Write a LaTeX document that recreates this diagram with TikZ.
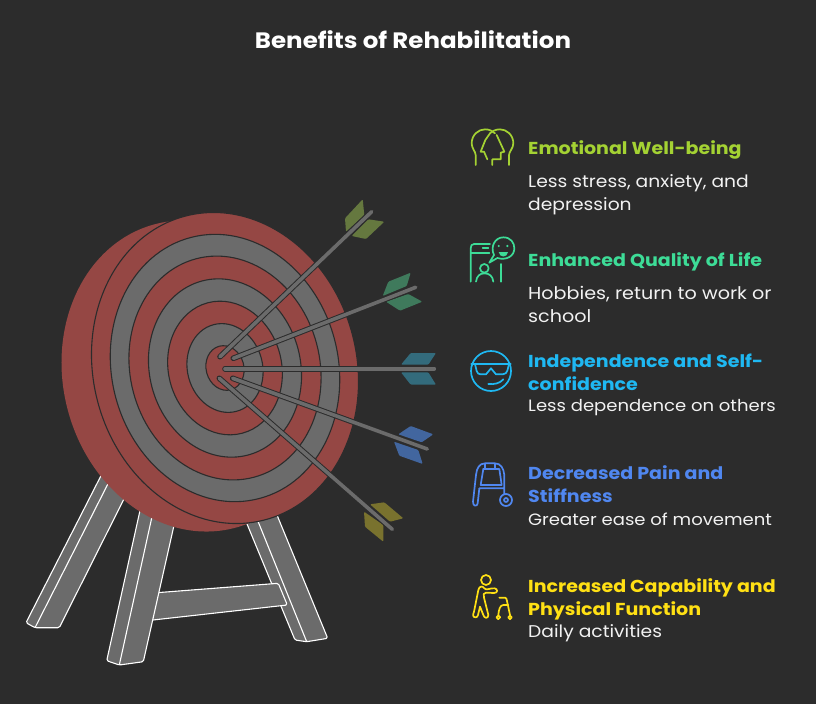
\documentclass[tikz,border=0pt]{standalone}
\usepackage{fontspec}
\setmainfont{Poppins}[FakeStretch=1.1]
\definecolor{bg}{HTML}{2C2C2C}
\definecolor{tred}{HTML}{954744}
\definecolor{tgray}{HTML}{6B6B6B}
\definecolor{cA}{HTML}{A4D233}
\definecolor{cB}{HTML}{3DDC97}
\definecolor{cC}{HTML}{1FB8F2}
\definecolor{cD}{HTML}{5087F0}
\definecolor{cE}{HTML}{FFE014}
\definecolor{fA}{HTML}{65783F}
\definecolor{fB}{HTML}{3F7A5C}
\definecolor{fC}{HTML}{336B7C}
\definecolor{fD}{HTML}{42669F}
\definecolor{fE}{HTML}{79722E}
\tikzset{
  leg/.style={fill=tgray,draw=white,line width=1.1pt,line join=round,rounded corners=1.5pt},
  edgeline/.style={draw=white,line width=1.1pt},
  ring/.style={fill=tgray,draw=bg,line width=1.1pt},
  redring/.style={fill=tred,draw=bg,line width=1.1pt},
  feather/.style={draw=none,rounded corners=1pt},
  shaftout/.style={draw=bg,line width=5.6pt,line cap=round},
  shaft/.style={draw=tgray,line width=3.6pt,line cap=round},
  icon/.style={line width=1.7pt,line cap=round,line join=round,fill=none},
  head/.style={anchor=base west,font=\fontsize{17.3}{23}\selectfont\bfseries,align=left,inner sep=0pt},
  body/.style={anchor=base west,font=\fontsize{17}{23}\selectfont,text=white!95!black,align=left,inner sep=0pt},
  bodysmall/.style={body,font=\fontsize{16.4}{23}\selectfont},
  bodylarge/.style={body,font=\fontsize{17.4}{23}\selectfont},
}
\newcommand{\tilted}[3]{% style, half-width scale, center
  \path[#1] (#3) [rotate around={14.7:(#3)}] ellipse [x radius=#2*131.7, y radius=#2*157];}
\begin{document}
\begin{tikzpicture}[x=1pt,y=-1pt]
\useasboundingbox (0,0) rectangle (816,704);
\fill[bg] (0,0) rectangle (816,704);
\coordinate (c) at (225,368);
\coordinate (cb) at (195,376);
% legs
\path[leg] (110,458) -- (26,622.7) -- (35,627.7) -- (59.3,627.7) -- (133,481) -- cycle;
\draw[edgeline] (117,466) -- (35,627.7);
\path[leg] (240,507) -- (295,640) -- (306.7,641.7) -- (327.7,638.3) -- (270,498) -- cycle;
\draw[edgeline] (251,504) -- (306.7,641.7);
\path[leg] (140,594) -- (278.3,583.3) -- (287.3,605) -- (135,622) -- cycle;
\path[leg] (143,497) -- (106.7,660.7) -- (119.3,665) -- (143.3,661.7) -- (177,512) -- cycle;
\draw[edgeline] (155,503) -- (119.3,665);
% target
\tilted{fill=tred}{1}{cb}
\tilted{redring}{1}{c}
\tilted{ring}{0.8595}{c}
\tilted{redring}{0.7197}{c}
\tilted{ring}{0.5733}{c}
\tilted{redring}{0.4297}{c}
\tilted{ring}{0.2855}{c}
\tilted{redring}{0.1435}{c}
% feathers
\fill[fA,feather] (345,218.3) -- (362.7,199.3) -- (364.3,215) -- (346,231.7) -- cycle;
\fill[fA,feather] (351.7,236) -- (368.3,219.3) -- (384.3,221.7) -- (366,239) -- cycle;
\fill[fB,feather] (382.7,296) -- (388.3,281.7) -- (410.7,272.7) -- (406.7,286) -- cycle;
\fill[fB,feather] (386,301.7) -- (408.3,294) -- (422.3,301.7) -- (400,310.7) -- cycle;
\fill[fC,feather] (401,364.7) -- (410.7,353) -- (436,353) -- (428.3,364.7) -- cycle;
\fill[fC,feather] (401,372.3) -- (428.3,372.3) -- (436,384.7) -- (410.7,384.7) -- cycle;
\fill[fD,feather] (398.3,434.3) -- (410.7,426) -- (433.3,434.3) -- (421.7,442.3) -- cycle;
\fill[fD,feather] (394,441.7) -- (418.3,450) -- (422.7,464) -- (399.3,455.7) -- cycle;
\fill[fE,feather] (370,504.3) -- (384.3,502.3) -- (403.3,518.3) -- (390,521.7) -- cycle;
\fill[fE,feather] (364,511.7) -- (383.3,525) -- (383.3,541.7) -- (365,526.7) -- cycle;
% shafts
\foreach \a/\b/\p/\q in {220/356.7/371.7/211.7, 233.3/358.3/415.7/287.3, 225/368.7/434.3/368.7, 232.7/378.3/427.3/449, 219.3/378.3/392.3/529.3}{
  \draw[shaftout] (\a,\b) -- (\p,\q);
  \draw[shaft] (\a,\b) -- (\p,\q);
}
% title
\node[font=\fontsize{22.3}{25}\selectfont\bfseries,text=white,inner sep=0pt,anchor=base] (title) at (413,48) {Benefits of Rehabilitation};
% texts
\node[head,text=cA] (h1) at (528,154) {Emotional Well-being};
\node[body] (b1) at (528,210) {Less stress, anxiety, and\\depression};
\node[head,text=cB] (h2) at (528,266) {Enhanced Quality of Life};
\node[bodylarge] (b2) at (528,322) {Hobbies, return to work or\\school};
\node[head,text=cC] (h3) at (528,390) {Independence and Self-\\confidence};
\node[bodysmall] (b3) at (528,411) {Less dependence on others};
\node[head,text=cD] (h4) at (528,502) {Decreased Pain and\\Stiffness};
\node[bodysmall] (b4) at (528,525) {Greater ease of movement};
\node[head,text=cE] (h5) at (528,615) {Increased Capability and\\Physical Function};
\node[body] (b5) at (528,637) {Daily activities};
% icon 1
\begin{scope}[shift={(460,120)},x=1pt/3,y=-1pt/3,icon,draw=cA]
\draw (47,135) -- (47,105) .. controls (47,95) and (35,85) .. (35,70) .. controls (35,45) and (55,28) .. (75,28) .. controls (88,28) and (98,33) .. (105,40);
\draw (147,135) -- (147,105) .. controls (147,95) and (160,85) .. (160,70) .. controls (160,45) and (140,28) .. (120,28) .. controls (108,28) and (97,33) .. (90,40);
\draw (90,40) -- (76,60) -- (62,95) -- (72,95) -- (82,118);
\draw (110,45) -- (127,82) -- (133,95) -- (122,98) -- (122,118) -- (97,118) -- (97,135);
\end{scope}
% icon 2
\begin{scope}[shift={(460,120)},x=1pt/3,y=-1pt/3,icon,draw=cB]
\draw (32,485) -- (32,385) .. controls (32,377) and (35,372) .. (42,372) -- (90,372);
\draw (32,398) -- (88,398);
\draw (68,383) -- (85,383);
\draw (122,432) -- (122,485);
\draw (88,428) -- (102,405) .. controls (90,380) and (105,352) .. (130,352) .. controls (152,352) and (163,368) .. (163,385) .. controls (163,408) and (140,422) .. (112,414) -- cycle;
\fill[cB] (116,378) circle (3.5);
\fill[cB] (142,378) circle (3.5);
\fill[cB] (116,396) -- (144,396) .. controls (142,414) and (118,414) .. (116,396) -- cycle;
\draw (73,445) circle (13);
\draw (48,485) .. controls (50,468) and (60,460) .. (73,460) .. controls (88,460) and (98,468) .. (100,485);
\end{scope}
% icon 3
\begin{scope}[shift={(460,340)},x=1pt/3,y=-1pt/3,icon,draw=cC]
\draw (93,93) circle (60);
\draw (34,72) -- (152,72);
\draw (45,72) -- (50,93) .. controls (52,100) and (56,103) .. (62,103) -- (78,103) -- (93,85) -- (108,103) -- (128,103) .. controls (136,103) and (140,98) .. (142,92) -- (147,72);
\draw (85,132) .. controls (102,134) and (120,130) .. (130,118);
\end{scope}
% icon 4
\begin{scope}[shift={(460,455)},x=1pt/3,y=-1pt/3,icon,draw=cD]
\draw (133,117) -- (133,60) .. controls (131,40) and (122,25) .. (105,25) -- (75,25) .. controls (58,25) and (50,40) .. (48,60) -- (39,140) .. controls (38,155) and (52,155) .. (53,145) -- (58,100) -- (130,100);
\draw (75,27) -- (75,42) -- (105,42) -- (105,27);
\draw (70,42) -- (62,90) -- (125,90) -- (118,42) -- (105,42);
\draw (75,42) -- (70,42);
\draw (138,135) circle (18);
\draw (138,135) circle (6);
\end{scope}
% icon 5
\begin{scope}[shift={(460,455)},x=1pt/3,y=-1pt/3,icon,draw=cE]
\draw (78,375) circle (15);
\draw (47,487) .. controls (38,487) and (38,480) .. (42,470) -- (55,405) .. controls (58,392) and (68,392) .. (73,400) .. controls (80,408) and (90,398) .. (104,400) .. controls (114,402) and (114,414) .. (102,414) -- (78,413) .. controls (70,412) and (70,420) .. (72,428) -- (85,480) .. controls (85,492) and (72,490) .. (70,480) -- (60,455) -- (54,480) .. controls (53,485) and (50,487) .. (47,487) -- cycle;
\draw (118,428) -- (135,428) .. controls (139,428) and (140,432) .. (141,438) -- (150,480);
\draw (145,450) -- (130,450) .. controls (120,450) and (116,465) .. (115,480);
\draw (115,487) circle (5.5);
\draw (150,487) circle (5.5);
\end{scope}
\end{tikzpicture}
\end{document}
